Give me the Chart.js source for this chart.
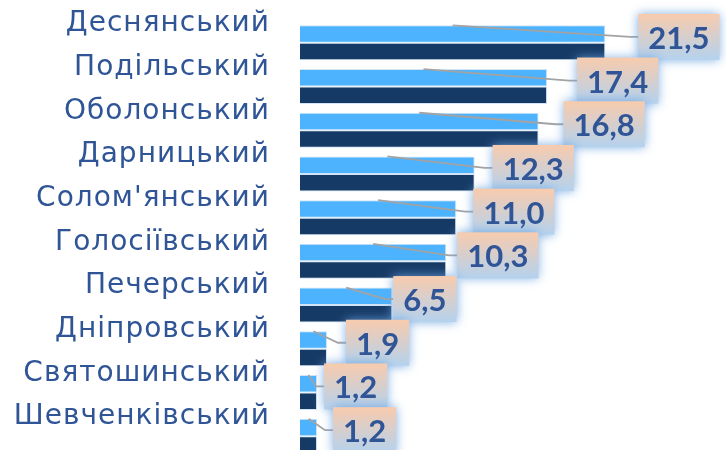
<!DOCTYPE html>
<html>
<head>
<meta charset="utf-8">
<script src="https://cdn.jsdelivr.net/npm/chart.js@4/dist/chart.umd.min.js"></script>
<style>
  html, body { margin: 0; padding: 0; background: #fff; overflow: hidden; }
  #wrap { width: 726px; height: 460px; position: relative; }
</style>
</head>
<body>
<div id="wrap"><canvas id="districtChart"></canvas></div>
<script>
// Districts, top to bottom
const districts = ['Деснянський', 'Подільський', 'Оболонський', 'Дарницький', "Солом'янський",
    'Голосіївський', 'Печерський', 'Дніпровський', 'Святошинський', 'Шевченківський'];
// two series, same values in the picture
const lightValues = [21.5, 17.4, 16.8, 12.3, 11.0, 10.3, 6.5, 1.9, 1.2, 1.2];
const darkValues = [21.5, 17.4, 16.8, 12.3, 11.0, 10.3, 6.5, 1.9, 1.2, 1.2];
// hand-dragged label boxes: px to the right of each bar end
const labelNudge = [33, 30, 25, 18, 17, 11, 1, 19, 7, 16];

const labelBlue = '#2f5597';

// wider letters for the district names (Century Gothic look)
const spacingPlugin = {
    id: 'spacing',
    beforeDraw(chart) { chart.ctx.letterSpacing = '1px'; },
    beforeDatasetsDraw(chart) { chart.ctx.letterSpacing = '0px'; }
};

// callout boxes with leader lines, like the Excel data labels
const calloutPlugin = {
    id: 'callouts',
    afterDatasetsDraw(chart) {
        const ctx = chart.ctx;
        const meta = chart.getDatasetMeta(0);
        ctx.save();
        ctx.letterSpacing = '0px';
        ctx.font = 'bold 31px Lato';
        meta.data.forEach((bar, i) => {
            const txt = lightValues[i].toFixed(1).replace('.', ',');
            const base = bar.base;
            const top = bar.y - bar.height / 2;
            const groupMid = bar.y + bar.height / 2;
            const w = ctx.measureText(txt).width + 20;
            const h = 46;
            const bx = bar.x + labelNudge[i];
            const by = groupMid - 29;
            const midY = by + h / 2;

            // leader line
            ctx.strokeStyle = '#a3a3a3';
            ctx.lineWidth = 1.8;
            ctx.beginPath();
            ctx.moveTo((base + bar.x) / 2, top);
            ctx.lineTo(bx - 8, midY);
            ctx.lineTo(bx, midY);
            ctx.stroke();

            // box with glow
            const grad = ctx.createLinearGradient(0, by, 0, by + h);
            grad.addColorStop(0, '#f8cbad');
            grad.addColorStop(1, '#b4d2ee');
            ctx.save();
            ctx.shadowColor = 'rgba(110,165,225,0.9)';
            ctx.shadowBlur = 10;
            ctx.fillStyle = grad;
            ctx.fillRect(bx, by, w, h);
            ctx.restore();

            ctx.fillStyle = labelBlue;
            ctx.textAlign = 'center';
            ctx.textBaseline = 'middle';
            ctx.fillText(txt, bx + w / 2, midY + 2);
        });
        ctx.restore();
    }
};

new Chart(document.getElementById('districtChart'), {
    type: 'bar',
    data: {
        labels: districts,
        datasets: [{
            data: lightValues,
            backgroundColor: '#4db3ff',
            borderColor: 'rgba(190,215,240,0.7)',
            borderWidth: 1,
            barPercentage: 1.0,
            categoryPercentage: 0.8
        }, {
            data: darkValues,
            backgroundColor: '#163a66',
            borderColor: 'rgba(190,215,240,0.7)',
            borderWidth: 1,
            barPercentage: 1.0,
            categoryPercentage: 0.8
        }]
    },
    options: {
        indexAxis: 'y',
        responsive: true,
        maintainAspectRatio: false,
        animation: false,
        layout: { padding: { top: 21, bottom: 2, left: 0, right: 0 } },
        plugins: { legend: { display: false }, tooltip: { enabled: false } },
        scales: {
            x: { display: false, min: 0, max: 30 },
            y: {
                grid: { display: false, drawTicks: false },
                border: { display: false },
                afterFit: (scale) => {
                    scale.width = 300;
                    scale.paddingTop = 0;
                    scale.paddingBottom = 0;
                },
                ticks: {
                    padding: 30,
                    labelOffset: -19,
                    color: labelBlue,
                    font: { family: 'DejaVu Sans', size: 28 }
                }
            }
        }
    },
    plugins: [spacingPlugin, calloutPlugin]
});
</script>
</body>
</html>
